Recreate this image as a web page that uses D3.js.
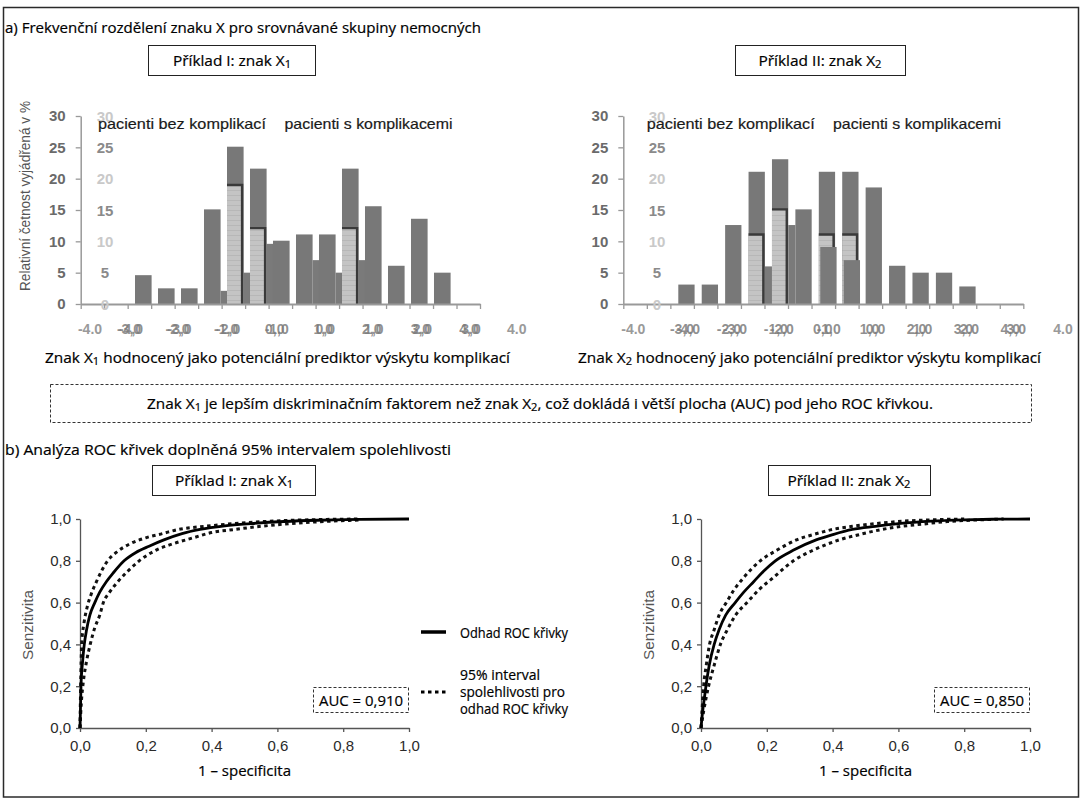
<!DOCTYPE html>
<html><head><meta charset="utf-8">
<script src="https://cdn.jsdelivr.net/npm/d3@7"></script>
<style>body{margin:0;background:#fff}svg{display:block}</style>
</head><body>
<svg id="c" width="1084" height="800"></svg>
<script>
// ---------- DATA ----------
// Histogram I (znak X1): bins of the overlaid chart
const h1Bins  = [0,1,2,3,4,5,6,7,8,9,10,11,12,13];
const h1Dark  = [4.6,2.5,2.5,15.1,25.1,21.6,10.1,11.1,11.1,21.6,15.6,6.1,13.6,5.0];
const h1Light = [0,0,0,0,19.0,12.1,0,0,0,12.1,0,0,0,0];
const h1Gap   = [0,0,0,0,2.1,5.0,9.6,0,7.0,5.0,7.0,0,0,0];
const h1Front = [0,0,0,0,0,0,0,0,0,0,0,0,0,0];
// Histogram II (znak X2)
const h2Bins  = [0,1,2,3,4,5,6,7,8,9,10,11,12];
const h2Dark  = [3.1,3.1,12.6,21.1,23.1,15.1,21.1,21.1,18.6,6.1,5.0,5.0,2.8];
const h2Light = [0,0,0,11.1,15.1,0,11.1,11.1,0,0,0,0,0];
const h2Gap   = [0,0,0,0,6.0,12.6,0,0,0,0,0,0,0];
const h2Front = [0,0,0,0,0,0,9.1,7.0,0,0,0,0,0];
// axes of the histograms
const hYTicks   = [0,5,10,15,20,25,30];
const hXTickIdx = [0,1,2,3,4,5,6,7,8,9,10,11,12,13,14,15,16,17];
const hXLabPos  = [-4,-3,-2,-1,0,1,2,3];
const hXLabA    = ["-4,0","-3,0","-2,0","-1,0","0,0","1,0","2,0","3,0"];
const hXLabB    = ["-3,0","-2,0","-1,0","0,0","1,0","2,0","3,0","4,0"];
const hXEndPos  = [-4,4];
const hXEndLab  = ["-4.0","4.0"];
// ROC curves  [1 - specificita, senzitivita]
const roc1Est = [[0,0],[0.003,0.2],[0.008,0.32],[0.013,0.40],[0.02,0.47],[0.03,0.54],[0.045,0.60],[0.06,0.65],[0.08,0.70],[0.10,0.74],[0.134,0.80],[0.17,0.84],[0.21,0.87],[0.255,0.90],[0.31,0.93],[0.365,0.95],[0.44,0.967],[0.52,0.978],[0.62,0.988],[0.72,0.994],[0.85,0.998],[1,1]];
const roc1Up  = [[0,0],[0.002,0.2],[0.005,0.4],[0.012,0.5],[0.022,0.58],[0.034,0.64],[0.05,0.70],[0.065,0.75],[0.084,0.80],[0.11,0.84],[0.15,0.88],[0.20,0.91],[0.25,0.93],[0.30,0.95],[0.38,0.965],[0.46,0.977],[0.55,0.987],[0.65,0.994],[0.75,0.998],[0.85,1.0]];
const roc1Lo  = [[0,0],[0.004,0.12],[0.01,0.22],[0.02,0.32],[0.031,0.40],[0.045,0.48],[0.06,0.54],[0.071,0.60],[0.09,0.65],[0.115,0.70],[0.145,0.75],[0.18,0.80],[0.23,0.85],[0.28,0.88],[0.344,0.91],[0.40,0.935],[0.47,0.95],[0.55,0.965],[0.64,0.978],[0.74,0.988],[0.85,0.995]];
const roc2Est = [[0,0],[0.005,0.08],[0.01,0.14],[0.015,0.2],[0.025,0.3],[0.04,0.4],[0.055,0.47],[0.075,0.54],[0.104,0.6],[0.13,0.65],[0.16,0.70],[0.19,0.75],[0.226,0.8],[0.28,0.85],[0.35,0.9],[0.40,0.925],[0.46,0.95],[0.53,0.965],[0.60,0.978],[0.70,0.99],[0.80,0.996],[0.90,0.999],[1,1]];
const roc2Up  = [[0,0],[0.003,0.08],[0.008,0.2],[0.016,0.3],[0.026,0.4],[0.04,0.47],[0.055,0.54],[0.077,0.6],[0.10,0.66],[0.13,0.72],[0.18,0.8],[0.23,0.85],[0.29,0.9],[0.34,0.925],[0.40,0.95],[0.46,0.965],[0.53,0.978],[0.62,0.99],[0.70,0.996],[0.80,1.0]];
const roc2Lo  = [[0,0],[0.008,0.08],[0.015,0.14],[0.023,0.2],[0.04,0.3],[0.059,0.4],[0.08,0.47],[0.105,0.54],[0.14,0.6],[0.175,0.66],[0.22,0.72],[0.281,0.8],[0.34,0.85],[0.42,0.9],[0.48,0.925],[0.55,0.95],[0.61,0.965],[0.67,0.975],[0.75,0.988],[0.85,0.996],[0.92,1.0]];
const rocTicks = [0,0.2,0.4,0.6,0.8,1];
const aucValues = ["0,910","0,850"];

// ---------- DRAW ----------
const svg = d3.select("#c");
const SANS = "'Open Sans', 'Noto Sans', sans-serif";
const ARIAL = "'Liberation Sans', Arial, sans-serif";

const defs = svg.append("defs");
const pat = defs.append("pattern").attr("id","hatch").attr("patternUnits","userSpaceOnUse")
  .attr("width",4).attr("height",5);
pat.append("rect").attr("width",4).attr("height",5).attr("fill","#c4c4c4");
pat.append("line").attr("x1",0).attr("x2",4).attr("y1",0.5).attr("y2",0.5)
  .attr("stroke","#b4b4b4").attr("stroke-width",0.8);

// outer frame
svg.append("rect").attr("x",3.5).attr("y",7.5).attr("width",1075).attr("height",789.5)
  .attr("fill","none").attr("stroke","#2a2a2a").attr("stroke-width",1.5);

// rich text helper: parts = [[string, isSub], ...]
function rich(x, y, parts, o) {
  o = o || {};
  const t = svg.append("text").attr("x",x).attr("y",y)
    .attr("font-family", o.font || SANS).attr("font-size", o.size || 14)
    .attr("fill", o.fill || "#000").attr("text-anchor", o.anchor || "start")
    .attr("dominant-baseline","central");
  if (o.bold !== false) t.attr("stroke", o.fill || "#000").attr("stroke-width", o.sw || 0.2);
  let sub = false;
  parts.forEach(p => {
    const s = t.append("tspan").text(p[0]);
    if (p[1] && !sub) { s.attr("dy",4).attr("font-size",(o.size||14)*0.72); sub = true; }
    else if (!p[1] && sub) { s.attr("dy",-4); sub = false; }
  });
  if (o.len) t.attr("textLength", o.len).attr("lengthAdjust","spacingAndGlyphs");
  if (o.rotate) t.attr("transform", `rotate(${o.rotate},${x},${y})`);
  return t;
}
function box(x, y, w, h, dashed) {
  svg.append("rect").attr("x",x).attr("y",y).attr("width",w).attr("height",h)
    .attr("fill","#fff").attr("stroke", dashed ? "#333" : "#222")
    .attr("stroke-width", 1).attr("stroke-dasharray", dashed ? "3,2" : null);
}

// ---- section titles ----
rich(5, 27, [["a) Frekvenční rozdělení znaku X pro srovnávané skupiny nemocných"]], {len:476});
rich(5, 449, [["b) Analýza ROC křivek doplněná 95% intervalem spolehlivosti"]], {len:446});

box(148.5, 45.5, 167, 30);
rich(232, 60, [["Příklad I: znak X"],["1",1]], {anchor:"middle", len:118});
box(735.5, 45.5, 170, 30);
rich(820, 60, [["Příklad II: znak X"],["2",1]], {anchor:"middle", len:123});

// ---- histogram ----
const yH = d3.scaleLinear().domain([0,30]).range([304,116]);

function drawHist(c) {
  const g = svg.append("g");
  const band = d3.scaleBand().domain(c.bins).range(c.barRange).paddingInner(c.pad).paddingOuter(0);
  const bw = band.bandwidth(), gapW = band.step() - bw;

  // slivers of the hidden series between the bars
  g.selectAll(".gap").data(c.bins.filter(b => c.gap[b] > 0)).join("rect")
    .attr("x", b => band(b) - gapW).attr("width", gapW)
    .attr("y", b => yH(c.gap[b])).attr("height", b => yH(0) - yH(c.gap[b]))
    .attr("fill","#7a7a7a");
  // main dark bars
  g.selectAll(".dark").data(c.bins).join("rect")
    .attr("x", b => band(b)).attr("width", bw)
    .attr("y", b => yH(c.dark[b])).attr("height", b => yH(0) - yH(c.dark[b]))
    .attr("fill","#787878");
  // light bars with step outline
  const lb = c.bins.filter(b => c.light[b] > 0);
  g.selectAll(".light").data(lb).join("rect")
    .attr("x", b => band(b)).attr("width", bw - 1.5)
    .attr("y", b => yH(c.light[b])).attr("height", b => yH(0) - yH(c.light[b]))
    .attr("fill","url(#hatch)");
  g.selectAll(".outl").data(lb).join("path")
    .attr("d", b => `M${band(b)},${yH(c.light[b])}H${band(b)+bw-1.5}V${yH(0)}`)
    .attr("fill","none").attr("stroke","#3a3a3a").attr("stroke-width",2.4);
  // front bars of the overlaid chart
  g.selectAll(".front").data(c.bins.filter(b => c.front[b] > 0)).join("rect")
    .attr("x", b => band(b) + 1.5).attr("width", bw)
    .attr("y", b => yH(c.front[b])).attr("height", b => yH(0) - yH(c.front[b]))
    .attr("fill","#7a7a7a");

  // x axis (ticks only)
  const xt = d3.scaleLinear().domain([0,17]).range(c.tickRange);
  const ax = g.append("g").attr("transform","translate(0,304)")
    .call(d3.axisBottom(xt).tickValues(hXTickIdx).tickSizeInner(5).tickSizeOuter(0).tickFormat(""));
  ax.select(".domain").attr("stroke","#999").attr("stroke-width",2);
  ax.selectAll(".tick line").attr("stroke","#999").attr("stroke-width",1.3);

  // y axis
  const ay = g.append("g").attr("transform",`translate(${c.tickRange[0]},0)`)
    .call(d3.axisLeft(yH).tickValues(hYTicks).tickSizeInner(5).tickSizeOuter(0).tickPadding(10));
  ay.select(".domain").attr("stroke","#999").attr("stroke-width",1.5);
  ay.selectAll(".tick line").attr("stroke","#999").attr("stroke-width",1.3);
  ay.selectAll(".tick text").attr("font-family",ARIAL).attr("font-size",15)
    .attr("font-weight","bold").attr("fill","#6a6a6a");
  // second (overlaid) y labels
  g.selectAll(".y2").data(hYTicks).join("text")
    .attr("x", c.y2x).attr("y", d => yH(d)).attr("dominant-baseline","central")
    .attr("text-anchor","middle").attr("font-family",ARIAL).attr("font-size",15)
    .attr("font-weight","bold").attr("fill", (d,i) => i % 2 ? "#8a8a8a" : "#c9c9c9")
    .text(d => d);

  // overlaid x labels: the two printed label rows fall on the same spot
  const xl = d3.scaleLinear().domain([-4,3]).range(c.labRange);
  const xe = d3.scaleLinear().domain([-4,4]).range(c.endRange);
  const lt = g.append("g").selectAll("text").data(hXLabPos).join("text")
    .attr("y", 329).attr("dominant-baseline","central")
    .attr("text-anchor","middle").attr("font-family",ARIAL).attr("font-size",14)
    .attr("font-weight","bold").attr("fill","#7c7c7c");
  lt.append("tspan").attr("x", d => xl(d) + c.offA).attr("fill-opacity",0.85).text((d,i) => hXLabA[i]);
  lt.append("tspan").attr("x", d => xl(d) + c.offB).attr("fill-opacity",0.85).text((d,i) => hXLabB[i]);
  g.selectAll(".xe").data(hXEndPos).join("text")
    .attr("x", d => xe(d)).attr("y", 329).attr("dominant-baseline","central")
    .attr("text-anchor","middle").attr("font-family",ARIAL).attr("font-size",14)
    .attr("font-weight","bold").attr("fill","#9a9a9a").text((d,i) => hXEndLab[i]);

  // legend texts
  rich(c.leg[0], 123, [["pacienti bez komplikací"]], {font:ARIAL, size:15, len:168, fill:"#1a1a1a", sw:0.2});
  rich(c.leg[1], 123, [["pacienti s komplikacemi"]], {font:ARIAL, size:15, len:168, fill:"#1a1a1a", sw:0.2});
}

drawHist({bins:h1Bins, dark:h1Dark, light:h1Light, gap:h1Gap, front:h1Front,
  barRange:[135, 450.6], pad:0.278, tickRange:[80.7,480], y2x:105,
  labRange:[130,470], endRange:[90,516.7], offA:1, offB:-1, leg:[98,284.5]});
drawHist({bins:h2Bins, dark:h2Dark, light:h2Light, gap:h2Gap, front:h2Front,
  barRange:[678.3, 975.6], pad:0.304, tickRange:[623.3,1023.3], y2x:657,
  labRange:[685,1013.3], endRange:[633.3,1063], offA:3, offB:-3, leg:[646.7,833]});

rich(24, 196, [["Relativní četnost vyjádřená v %"]], {font:ARIAL, size:15, fill:"#555", anchor:"middle", rotate:-90, len:190, bold:false});

rich(45, 357, [["Znak X"],["1",1],[" hodnocený jako potenciální prediktor výskytu komplikací"]], {len:465});
rich(578, 357, [["Znak X"],["2",1],[" hodnocený jako potenciální prediktor výskytu komplikací"]], {len:463});

box(50.5, 384.5, 981, 38, true);
rich(540, 403, [["Znak X"],["1",1],[" je lepším diskriminačním faktorem než znak X"],["2",1],[", což dokládá i větší plocha  (AUC) pod jeho ROC křivkou."]], {anchor:"middle", len:786});

box(152.5, 465.5, 163, 30);
rich(234, 480, [["Příklad I: znak X"],["1",1]], {anchor:"middle", len:118});
box(768.5, 465.5, 162, 30);
rich(849, 480, [["Příklad II: znak X"],["2",1]], {anchor:"middle", len:123});

// ---- ROC ----
const fmt = d => d3.format(".1f")(d).replace(".", ",");
function drawRoc(c) {
  const x = d3.scaleLinear().domain([0,1]).range([c.x0, c.x1]);
  const y = d3.scaleLinear().domain([0,1]).range([728, 519]);
  const g = svg.append("g");
  const ax = g.append("g").attr("transform","translate(0,728)")
    .call(d3.axisBottom(x).tickValues(rocTicks).tickFormat(fmt).tickSizeInner(4).tickSizeOuter(0).tickPadding(8));
  const ay = g.append("g").attr("transform",`translate(${c.x0},0)`)
    .call(d3.axisLeft(y).tickValues(rocTicks).tickFormat(fmt).tickSizeInner(4).tickSizeOuter(0).tickPadding(5));
  [ax, ay].forEach(a => {
    a.select(".domain").attr("stroke","#555").attr("stroke-width",1.3);
    a.selectAll(".tick line").attr("stroke","#555").attr("stroke-width",1.3);
    a.selectAll(".tick text").attr("font-family",ARIAL).attr("font-size",15).attr("fill","#2a2a2a");
  });
  const line = d3.line().x(d => x(d[0])).y(d => y(d[1])).curve(d3.curveMonotoneX);
  [c.up, c.lo].forEach(s => g.append("path").attr("d", line(s)).attr("fill","none")
    .attr("stroke","#111").attr("stroke-width",3).attr("stroke-dasharray","3.5,3.5"));
  g.append("path").attr("d", line(c.est)).attr("fill","none")
    .attr("stroke","#000").attr("stroke-width",2.8);
  // AUC box
  box(c.x1 - 95.5, 687.5, 95, 25, true);
  rich(c.x1 - 48, 700, [["AUC = " + c.auc]], {anchor:"middle", len:84, size:15});
  rich(c.x0 - 52, 625, [["Senzitivita"]], {font:ARIAL, size:14, fill:"#555", anchor:"middle", rotate:-90, len:70, bold:false});
  rich((c.x0 + c.x1)/2, 770, [["1 – specificita"]], {anchor:"middle", len:93});
}
drawRoc({x0:80, x1:409, est:roc1Est, up:roc1Up, lo:roc1Lo, auc:aucValues[0]});
drawRoc({x0:701, x1:1030, est:roc2Est, up:roc2Up, lo:roc2Lo, auc:aucValues[1]});

// legend
svg.append("line").attr("x1",421).attr("x2",446).attr("y1",632).attr("y2",632)
  .attr("stroke","#000").attr("stroke-width",3.5);
svg.append("line").attr("x1",421).attr("x2",446).attr("y1",692).attr("y2",692)
  .attr("stroke","#000").attr("stroke-width",3).attr("stroke-dasharray","3.5,3.5");
rich(460, 632, [["Odhad ROC křivky"]], {len:108});
rich(460, 674, [["95% interval"]], {len:80});
rich(460, 691, [["spolehlivosti pro"]], {len:105});
rich(460, 708, [["odhad ROC křivky"]], {len:108});
</script>
</body></html>
